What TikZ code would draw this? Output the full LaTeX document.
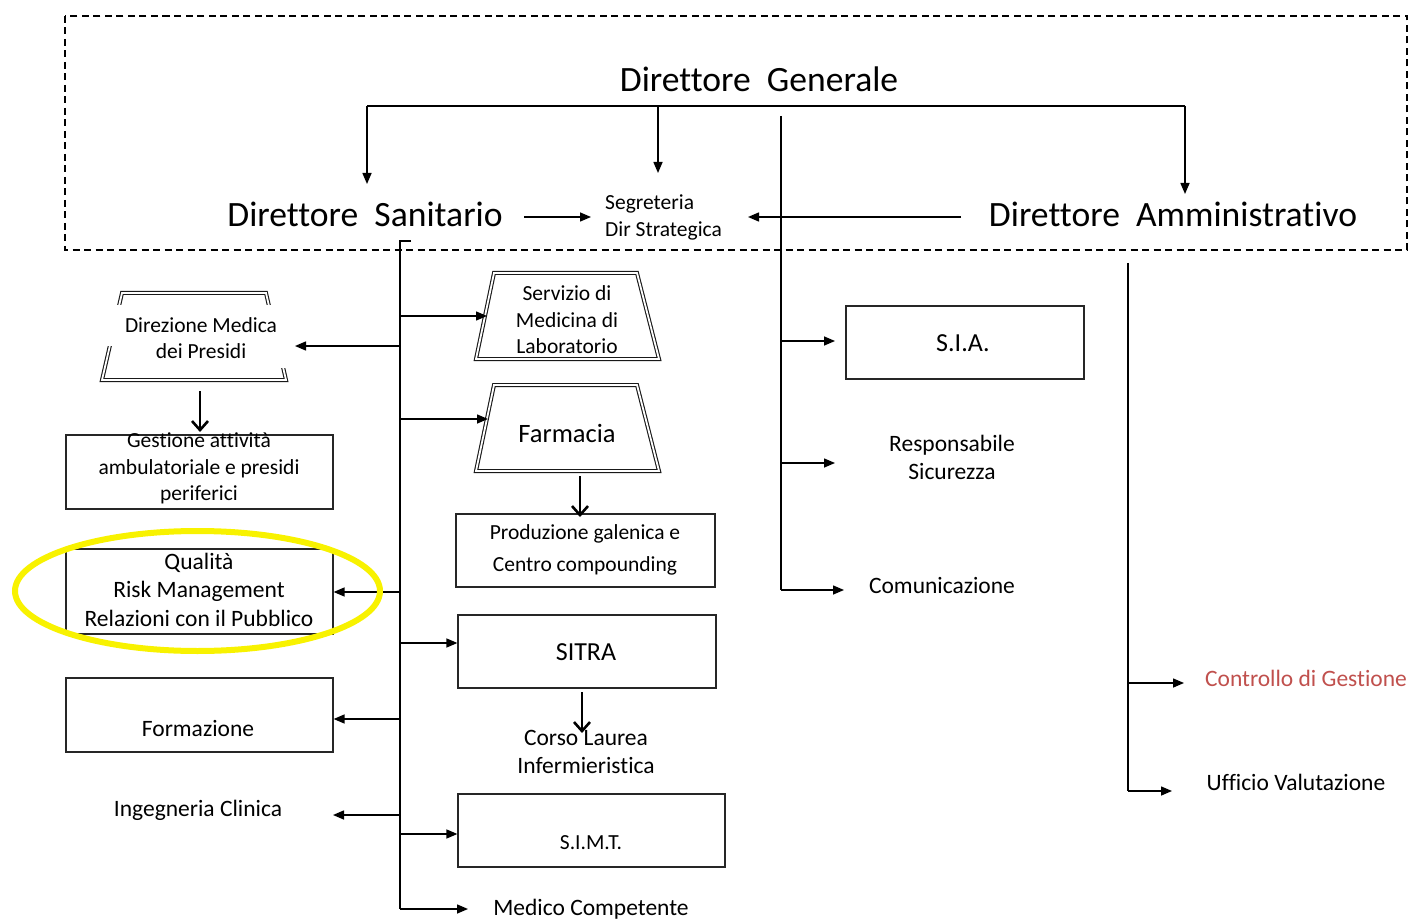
\documentclass[tikz,border=0pt]{standalone}
\usepackage{fontspec}
\setmainfont{Carlito}[Ligatures=NoCommon]
\usetikzlibrary{arrows.meta}
\definecolor{ctrlred}{RGB}{192,80,77}
\definecolor{marker}{RGB}{248,242,0}
\begin{document}
\begin{tikzpicture}[x=1pt,y=-1pt,
  big/.style={inner sep=0pt, font=\fontsize{35.6}{40}\selectfont},
  txt/.style={inner sep=0pt, align=center, font=\fontsize{23.5}{28.5}\selectfont},
  small/.style={inner sep=0pt, align=center, font=\fontsize{21.5}{26.5}\selectfont},
  ubox/.style={draw=black!85, line width=1.2pt, inner sep=0pt},
  trap/.style={draw=black!90, line width=1.1pt, double=white, double distance=1.8pt},
  ln/.style={line width=1.5pt},
  arr/.style={line width=1.5pt, -{Triangle[length=11pt,width=9pt]}},
  down/.style={line width=2.6pt, -{Straight Barb[length=9pt,width=16pt,line width=2.6pt]}}
]
\useasboundingbox (0,0) rectangle (1409,920);

% strategic direction frame
\draw[line width=1.4pt, dash pattern=on 7pt off 4.5pt] (65,16) rectangle (1407,250);

% top level
\node[big] (dg) at (759,79) {Direttore\ \ Generale};
\node[big] (ds) at (365,214) {Direttore\ \ Sanitario};
\node[big] (da) at (1173,214) {Direttore\ \ Amministrativo};
\node[small, align=left, anchor=west] (seg) at (605,217.5) {Segreteria\\Dir Strategica};

\coordinate (tL) at (367,106);
\coordinate (tM) at (658,106);
\coordinate (tR) at (1185,106);
\draw[ln] (tL) -- (tR);
\draw[arr] (tL) -- (367,184);
\draw[arr] (tM) -- (658,173);
\draw[arr] (tR) -- (1185,194);
\draw[arr] (524,217) -- (591,217);
\draw[arr] (961,217) -- (748,217);

% general director's staff
\node[ubox, minimum width=238, minimum height=73] (sia) at (965,342.5) {};
\node[txt, font=\fontsize{26}{30}\selectfont] at (963,343) {S.I.A.};
\node[txt] (resp) at (952,457.5) {Responsabile\\Sicurezza};
\node[txt] (comm) at (942,585) {Comunicazione};
\coordinate (gs0) at (781,116);
\coordinate (gs1) at (781,590);
\draw[ln] (gs0) -- (gs1);
\draw[arr] (781,341) -- (835,341);
\draw[arr] (781,463) -- (835,463);
\draw[arr] (gs1) -- (844,590);

% administrative director's staff
\node[txt, text=ctrlred] (cdg) at (1306,678) {Controllo di Gestione};
\node[txt] (uv) at (1296,782) {Ufficio Valutazione};
\coordinate (as0) at (1128,263);
\coordinate (as1) at (1128,791);
\draw[ln] (as0) -- (as1);
\draw[arr] (1128,683) -- (1184,683);
\draw[arr] (as1) -- (1172,791);

% health director's units, right column
\draw[trap] (494,273) -- (637,273) -- (659,359) -- (476,359) -- cycle;
\node[small] (serv) at (567,320) {Servizio di\\Medicina di\\Laboratorio};
\draw[trap] (494,385) -- (637,385) -- (659,471) -- (476,471) -- cycle;
\node[txt, font=\fontsize{26.5}{30}\selectfont] (farm) at (567,433) {Farmacia};
\node[ubox, minimum width=259, minimum height=73] (prod) at (585.5,550.5) {};
\node[inner sep=0pt, align=center, font=\fontsize{21.5}{32}\selectfont] at (585,550) {Produzione galenica e\\Centro compounding};
\node[ubox, minimum width=258, minimum height=73] (sitra) at (587,651.5) {};
\node[txt, font=\fontsize{26}{30}\selectfont] at (586,652) {SITRA};
\node[txt] (corso) at (586,752) {Corso Laurea\\Infermieristica};
\node[ubox, minimum width=267, minimum height=73] (simt) at (591.5,830.5) {};
\node[small] at (591,843) {S.I.M.T.};
\node[txt] (mc) at (591,909) {Medico Competente};
\draw[down] (580,476) -- (580,517);
\draw[down] (582,692) -- (582,733);

% health director's units, left column
\draw[trap] (122,293) -- (266,293) -- (286,380) -- (102,380) -- cycle;
\fill[white] (94,305) rectangle (126,346);
\fill[white] (260,305) rectangle (294,368);
\node[small] (dir) at (201,338) {Direzione Medica\\dei Presidi};
\node[ubox, minimum width=267, minimum height=74] (gest) at (199.5,472) {};
\node[small] at (199,468.5) {Gestione attività\\ambulatoriale e presidi\\periferici};
\node[ubox, minimum width=267, minimum height=85] (qual) at (199.5,591.5) {};
\node[txt] at (199,589.5) {Qualità\\Risk Management\\Relazioni con il Pubblico};
\node[ubox, minimum width=267, minimum height=74] (form) at (199.5,715) {};
\node[txt] at (198,728) {Formazione};
\node[txt] (ing) at (198,810) {Ingegneria Clinica};
\draw[down] (200,391) -- (200,432);

% health director's bus
\coordinate (sb0) at (400,241);
\coordinate (sb1) at (400,909);
\draw[ln] (411,241) -- (sb0) -- (sb1);
\draw[arr] (400,316) -- (487,316);
\draw[arr] (400,419) -- (488,419);
\draw[arr] (400,346) -- (295,346);
\draw[arr] (400,592) -- (qual.east |- 0,592);
\draw[arr] (400,643) -- (sitra.west |- 0,643);
\draw[arr] (400,719) -- (form.east |- 0,719);
\draw[arr] (400,815) -- (333,815);
\draw[arr] (400,834) -- (simt.west |- 0,834);
\draw[arr] (sb1) -- (468,909);

% highlight
\draw[marker, line width=6pt] (197.5,591) ellipse [x radius=182.5, y radius=60];
\end{tikzpicture}
\end{document}
